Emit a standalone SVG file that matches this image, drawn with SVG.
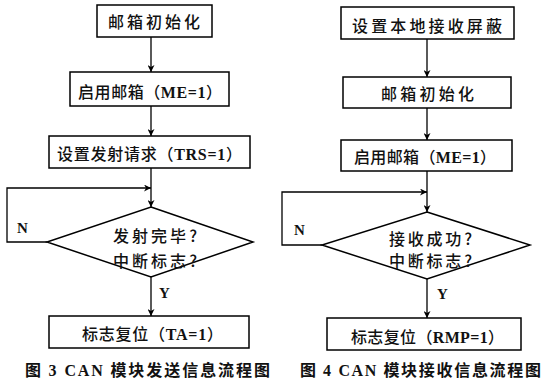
<svg xmlns="http://www.w3.org/2000/svg" width="548" height="387" viewBox="0 0 548 387">
<style>
.box{fill:#fff;stroke:#000;stroke-width:1.5}
.ln{fill:none;stroke:#000;stroke-width:1.3}
.t{font-family:"Noto Sans CJK SC","Noto Sans",sans-serif;font-size:16px;font-weight:500;fill:#111}
.lat{font-family:"Liberation Serif",serif;font-weight:bold}
.lb{font-family:"Liberation Serif",serif;font-weight:bold;font-size:15px;fill:#111}
.cap{font-family:"Noto Sans CJK SC","Noto Sans",sans-serif;font-size:16px;font-weight:bold;fill:#111}
.capl{font-family:"Liberation Serif",serif;font-weight:bold}
</style>
<defs>
<marker id="ah" viewBox="0 0 10 10" refX="10" refY="5" markerWidth="9" markerHeight="7" markerUnits="userSpaceOnUse" orient="auto">
<path d="M0,0 L10,5 L0,10 L3,5 Z" fill="#000"/>
</marker>
</defs>
<rect width="548" height="387" fill="#fff"/>

<g id="connectors">
<line class="ln" x1="151" y1="37" x2="151" y2="72" marker-end="url(#ah)"/>
<line class="ln" x1="151" y1="106" x2="151" y2="136" marker-end="url(#ah)"/>
<line class="ln" x1="151" y1="168" x2="151" y2="207" marker-end="url(#ah)"/>
<polyline class="ln" points="47,242 7,242 7,188 151,188" marker-end="url(#ah)"/>
<line class="ln" x1="151" y1="277" x2="151" y2="316" marker-end="url(#ah)"/>

<line class="ln" x1="427" y1="39" x2="427" y2="77" marker-end="url(#ah)"/>
<line class="ln" x1="427" y1="108" x2="427" y2="140" marker-end="url(#ah)"/>
<line class="ln" x1="427" y1="171" x2="427" y2="212" marker-end="url(#ah)"/>
<polyline class="ln" points="322,245 282,245 282,192 427,192" marker-end="url(#ah)"/>
<line class="ln" x1="427" y1="279" x2="427" y2="318" marker-end="url(#ah)"/>
</g>

<g id="L1"><rect class="box" x="97" y="5" width="115" height="32"/>
<text class="t" x="108" y="28" textLength="92" lengthAdjust="spacing">邮箱初始化</text></g>
<g id="L2"><rect class="box" x="70" y="72" width="159" height="34"/>
<text class="t" x="78" y="98" textLength="144" lengthAdjust="spacing">启用邮箱（<tspan class="lat">ME=1</tspan>）</text></g>
<g id="L3"><rect class="box" x="49" y="136" width="201" height="32"/>
<text class="t" x="57" y="160" textLength="185" lengthAdjust="spacing">设置发射请求（<tspan class="lat">TRS=1</tspan>）</text></g>
<g id="L4"><polygon class="box" points="151,207 253,242 151,277 47,242"/>
<text class="t" x="113" y="242" textLength="84" lengthAdjust="spacing">发射完毕?</text>
<text class="t" x="113" y="267" textLength="84" lengthAdjust="spacing">中断标志?</text></g>
<g id="L5"><rect class="box" x="49" y="316" width="200" height="32"/>
<text class="t" x="82" y="340" textLength="141" lengthAdjust="spacing">标志复位（<tspan class="lat">TA=1</tspan>）</text></g>
<text class="lb" x="17" y="233">N</text>
<text class="lb" x="159" y="298">Y</text>
<text class="cap" x="25" y="376" textLength="245" lengthAdjust="spacing">图 <tspan class="capl">3 CAN</tspan> 模块发送信息流程图</text>

<g id="R1"><rect class="box" x="341" y="7" width="173" height="32"/>
<text class="t" x="352" y="32" textLength="150" lengthAdjust="spacing">设置本地接收屏蔽</text></g>
<g id="R2"><rect class="box" x="343" y="77" width="168" height="31"/>
<text class="t" x="381" y="100" textLength="93" lengthAdjust="spacing">邮箱初始化</text></g>
<g id="R3"><rect class="box" x="341" y="140" width="171" height="31"/>
<text class="t" x="354" y="163" textLength="142" lengthAdjust="spacing">启用邮箱（<tspan class="lat">ME=1</tspan>）</text></g>
<g id="R4"><polygon class="box" points="427,212 530,245 427,279 322,245"/>
<text class="t" x="389" y="245" textLength="83" lengthAdjust="spacing">接收成功?</text>
<text class="t" x="389" y="267" textLength="83" lengthAdjust="spacing">中断标志?</text></g>
<g id="R5"><rect class="box" x="327" y="318" width="194" height="32"/>
<text class="t" x="351" y="343" textLength="153" lengthAdjust="spacing">标志复位（<tspan class="lat">RMP=1</tspan>）</text></g>
<text class="lb" x="294" y="235">N</text>
<text class="lb" x="437" y="299">Y</text>
<text class="cap" x="300" y="376" textLength="241" lengthAdjust="spacing">图 <tspan class="capl">4 CAN</tspan> 模块接收信息流程图</text>
</svg>
